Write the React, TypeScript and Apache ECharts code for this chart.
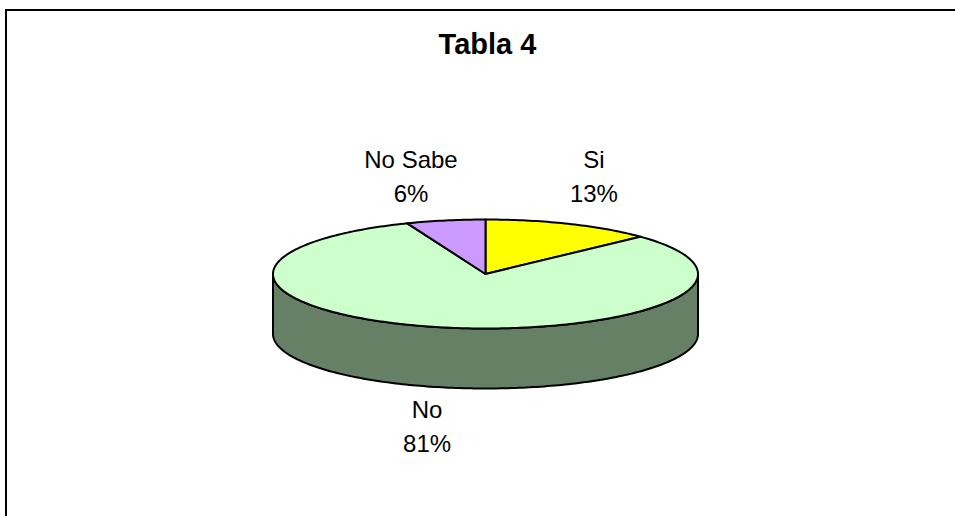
import { useEffect, useRef } from 'react';
import * as echarts from 'echarts';

// ---- data ----
const categories: string[] = ['Si', 'No', 'No Sabe'];
const values: number[] = [13, 81, 6];
const titleText = 'Tabla 4';

// ---- styles ----
const topColors = ['#FFFF00', '#CCFFCC', '#CC99FF'];
const sideColors = ['#808000', '#668066', '#66507F'];
const FONT = '"Liberation Sans", Arial, Helvetica, sans-serif';
const LABEL_SIZE = 24;
const LINE_H = 34;

// ---- geometry of the 3D pie ----
const CX = 485.5;
const CY = 274;
const RX = 212.5;
const RY = 54.5;
const DEPTH = 60;

function pt(deg: number, dy = 0): number[] {
  const r = (deg * Math.PI) / 180;
  return [CX + RX * Math.sin(r), CY - RY * Math.cos(r) + dy];
}

function arc(a1: number, a2: number, dy: number): number[][] {
  const n = Math.max(2, Math.ceil(Math.abs(a2 - a1)));
  const pts: number[][] = [];
  for (let k = 0; k <= n; k++) pts.push(pt(a1 + ((a2 - a1) * k) / n, dy));
  return pts;
}

let measureCtx: CanvasRenderingContext2D | null = null;
function textWidth(t: string, font: string): number {
  if (!measureCtx) measureCtx = document.createElement('canvas').getContext('2d');
  if (!measureCtx) return t.length * LABEL_SIZE * 0.55;
  measureCtx.font = font;
  return measureCtx.measureText(t).width;
}

export default function App() {
  const ref = useRef<HTMLDivElement>(null);

  useEffect(() => {
    if (!ref.current) return;
    const chart = echarts.init(ref.current, undefined, { renderer: 'svg' });
    const total = values.reduce((a, b) => a + b, 0);

    const renderItem = (params: any, api: any) => {
      const i = params.dataIndex;
      const v = api.value(0) as number;
      let start = 0;
      for (let j = 0; j < i; j++) start += values[j];
      const a1 = (start / total) * 360;
      const a2 = ((start + v) / total) * 360;
      const children: any[] = [];

      // visible front side wall
      const s = Math.max(a1, 90);
      const e = Math.min(a2, 270);
      if (e > s) {
        children.push({
          type: 'polygon',
          z2: 1,
          shape: { points: [...arc(s, e, 0), ...arc(e, s, DEPTH)] },
          style: { fill: sideColors[i], stroke: '#000', lineWidth: 2, lineJoin: 'round' },
        });
      }
      // top face
      children.push({
        type: 'polygon',
        z2: 2,
        shape: { points: [[CX, CY], ...arc(a1, a2, 0)] },
        style: { fill: topColors[i], stroke: '#000', lineWidth: 2, lineJoin: 'round' },
      });

      // label
      const mid = (a1 + a2) / 2;
      const r = (mid * Math.PI) / 180;
      const sn = Math.sin(r);
      const cs = Math.cos(r);
      const front = cs < 0;
      const P = pt(mid, front ? DEPTH : 0);
      const pct = Math.round((v / total) * 100) + '%';
      const name = categories[i];
      const f = `${LABEL_SIZE}px ${FONT}`;
      const w = Math.max(textWidth(name, f), textWidth(pct, f));
      const h = LINE_H * 2;
      const lx = P[0] + (sn >= 0 ? w / 2 : -w / 2 + 12);
      const ly = cs >= 0 ? CY - RY - 9 - h / 2 : P[1] + h / 2 + 5;
      children.push({
        type: 'text',
        z2: 3,
        x: lx,
        y: ly,
        style: {
          text: name + '\n' + pct,
          fontSize: LABEL_SIZE,
          fontFamily: FONT,
          fill: '#000',
          align: 'center',
          textAlign: 'center',
          verticalAlign: 'middle',
          textVerticalAlign: 'middle',
          lineHeight: LINE_H,
        },
      });
      return { type: 'group', children };
    };

    chart.setOption({
      animation: false,
      backgroundColor: '#fff',
      graphic: [
        {
          type: 'rect',
          shape: { x: 6, y: 10, width: 1000, height: 600 },
          style: { fill: 'none', stroke: '#000', lineWidth: 2 },
          silent: true,
        },
        {
          type: 'text',
          x: 487.5,
          y: 44,
          style: {
            text: titleText,
            fontSize: 29,
            fontWeight: 'bold',
            fontFamily: FONT,
            fill: '#000',
            align: 'center',
            textAlign: 'center',
            verticalAlign: 'middle',
            textVerticalAlign: 'middle',
          },
          silent: true,
        },
      ],
      series: [
        {
          type: 'custom',
          coordinateSystem: 'none',
          renderItem,
          silent: true,
          data: values.map((v, i) => ({ value: [v], name: categories[i] })),
        },
      ],
    });

    return () => chart.dispose();
  }, []);

  return (
    <div
      ref={ref}
      style={{ position: 'fixed', left: 0, top: 0, width: 955, height: 516, background: '#fff' }}
    />
  );
}
